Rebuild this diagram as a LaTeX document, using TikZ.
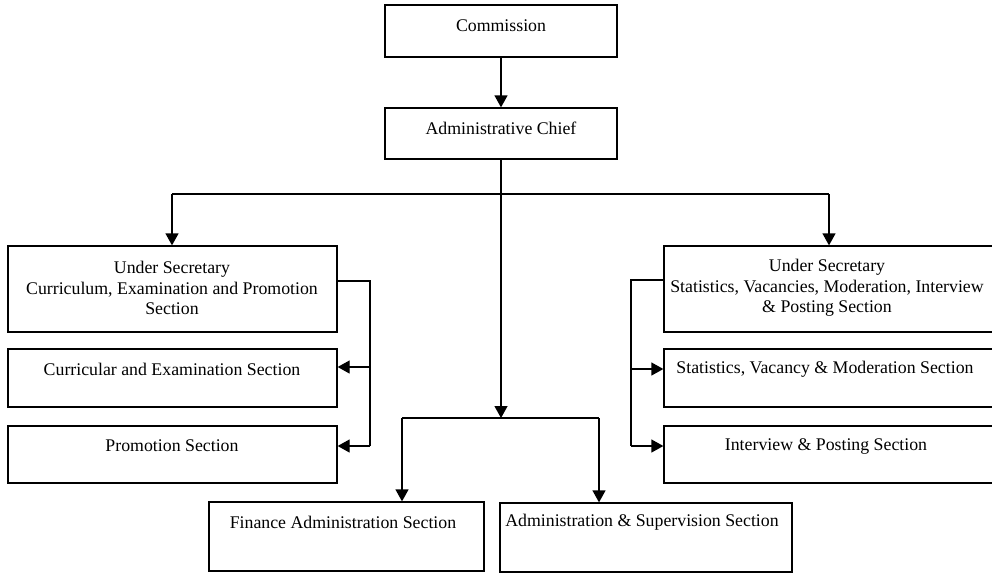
\documentclass[tikz,border=0pt]{standalone}
\usepackage{fontspec}
\setmainfont{Liberation Serif}
\usetikzlibrary{arrows.meta}
\begin{document}
\begin{tikzpicture}[x=1pt,y=-1pt,
  box/.style={draw, line width=1.3pt, rectangle, inner sep=0pt},
  txt/.style={inner sep=0pt, align=center, font=\fontsize{17.8}{20.5}\selectfont},
  conn/.style={line width=1.3pt},
  arr/.style={line width=1.3pt, -{Triangle[length=12pt,width=13pt]}}]
\useasboundingbox (0,0) rectangle (992,573);
% boxes
\node[box, minimum width=232pt, minimum height=52pt] (comm) at (501,31) {};
\node[box, minimum width=232pt, minimum height=51pt] (chief) at (501,133.5) {};
\node[box, minimum width=329pt, minimum height=86pt] (usL) at (172.5,289) {};
\node[box, minimum width=329pt, minimum height=58pt] (cur) at (172.5,378) {};
\node[box, minimum width=329pt, minimum height=57pt] (prom) at (172.5,454.5) {};
\node[box, minimum width=330pt, minimum height=86pt] (usR) at (829,289) {};
\node[box, minimum width=330pt, minimum height=58pt] (stat) at (829,378) {};
\node[box, minimum width=330pt, minimum height=57pt] (int) at (829,454.5) {};
\node[box, minimum width=275pt, minimum height=69pt] (fin) at (346.5,536.5) {};
\node[box, minimum width=292pt, minimum height=69pt] (as) at (646,537.5) {};
% texts
\node[txt] (commT) at (501,26) {Commission};
\node[txt] (chiefT) at (501,128) {Administrative Chief};
\node[txt] (usLT) at (172,288) {Under Secretary\\Curriculum, Examination and Promotion\\Section};
\node[txt] (curT) at (172,369) {Curricular and Examination Section};
\node[txt] (promT) at (172,446) {Promotion Section};
\node[txt] (usRT) at (827,288) {Under Secretary\\Statistics, Vacancies, Moderation, Interview\\\&\ Posting Section};
\node[txt] (statT) at (825,369) {Statistics, Vacancy \&\ Moderation Section};
\node[txt] (intT) at (826,446) {Interview \&\ Posting Section};
\node[txt] (finT) at (343,522) {Finance Administration Section};
\node[txt] (asT) at (642,522) {Administration \&\ Supervision Section};
% junction coordinates
\coordinate (j1) at (501,194);
\coordinate (jL) at (172,194);
\coordinate (jR) at (829,194);
\coordinate (j2) at (501,418);
\coordinate (j2L) at (402,418);
\coordinate (j2R) at (599,418);
\coordinate (bL0) at (370,281);
\coordinate (bL1) at (370,367);
\coordinate (bL2) at (370,446);
\coordinate (bR0) at (631,280);
\coordinate (bR1) at (631,369);
\coordinate (bR2) at (631,446);
% connectors
\draw[arr] (comm.south) -- (chief.north);
\draw[arr] (chief.south) -- (j2);
\draw[conn] (jL) -- (jR);
\draw[arr] (jL) -- (usL.north -| jL);
\draw[arr] (jR) -- (usR.north -| jR);
\draw[conn] (j2L) -- (j2R);
\draw[arr] (j2L) -- (fin.north -| j2L);
\draw[arr] (j2R) -- (as.north -| j2R);
\draw[conn] (usL.east |- bL0) -- (bL0) -- (bL2);
\draw[arr] (bL1) -- (cur.east |- bL1);
\draw[arr] (bL2) -- (prom.east |- bL2);
\draw[conn] (usR.west |- bR0) -- (bR0) -- (bR2);
\draw[arr] (bR1) -- (stat.west |- bR1);
\draw[arr] (bR2) -- (int.west |- bR2);
\end{tikzpicture}
\end{document}
